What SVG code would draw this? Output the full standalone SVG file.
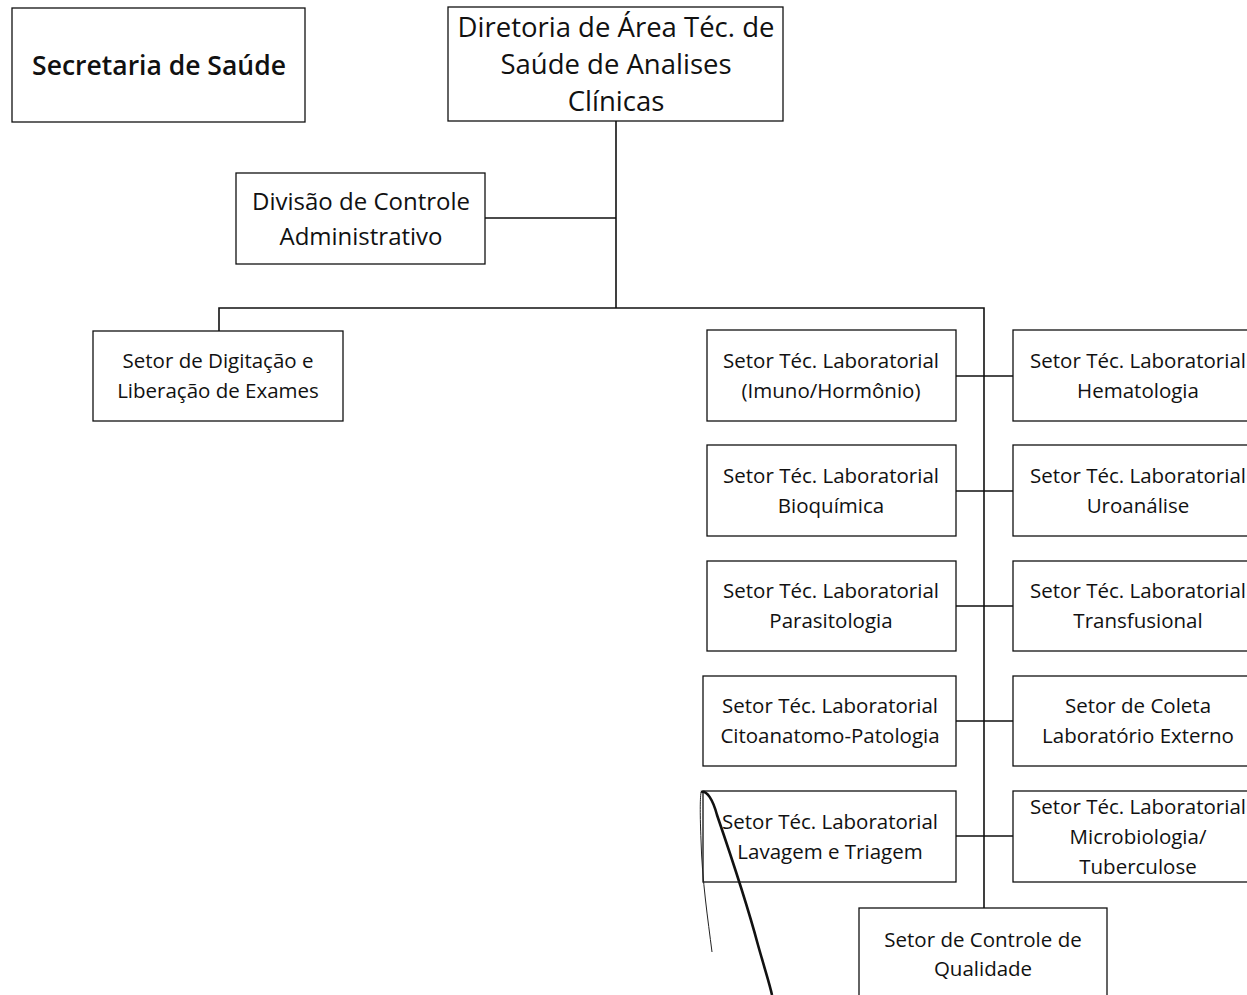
<svg xmlns="http://www.w3.org/2000/svg" width="1247" height="995" viewBox="0 0 1247 995">
<style>
.box{fill:#fff;stroke:#111;stroke-width:1.3}
.t{font-family:"Open Sans","Noto Sans",sans-serif;fill:#111;text-anchor:middle}
.s{font-size:20.5px}
.m{font-size:24px}
.l{font-size:27.5px}
.c{stroke:#111;stroke-width:1.6;fill:none}
</style>
<rect width="1247" height="995" fill="#fff"/>
<g id="connectors">
<path class="c" d="M616 121V308M485 218H616M219 331V308H984V908"/>
<path class="c" d="M956 376H1013M956 491H1013M956 606H1013M956 721H1013M956 836H1013"/>
</g>
<g id="secretaria"><rect class="box" x="12" y="8" width="293" height="114"/><text class="t" x="159" y="75" style="font-size:26.5px;font-weight:600">Secretaria de Saúde</text></g>
<g id="diretoria"><rect class="box" x="448" y="7" width="335" height="114"/><text class="t l" x="616" y="37">Diretoria de Área Téc. de</text><text class="t l" x="616" y="74">Saúde de Analises</text><text class="t l" x="616" y="111">Clínicas</text></g>
<g id="divisao"><rect class="box" x="236" y="173" width="249" height="91"/><text class="t m" x="361" y="210">Divisão de Controle</text><text class="t m" x="361" y="245">Administrativo</text></g>
<g id="digitacao"><rect class="box" x="93" y="331" width="250" height="90"/><text class="t s" x="218" y="368">Setor de Digitação e</text><text class="t s" x="218" y="398">Liberação de Exames</text></g>
<g id="imuno"><rect class="box" x="707" y="330" width="249" height="91"/><text class="t s" x="831" y="368">Setor Téc. Laboratorial</text><text class="t s" x="831" y="398">(Imuno/Hormônio)</text></g>
<g id="bioquimica"><rect class="box" x="707" y="445" width="249" height="91"/><text class="t s" x="831" y="483">Setor Téc. Laboratorial</text><text class="t s" x="831" y="513">Bioquímica</text></g>
<g id="parasitologia"><rect class="box" x="707" y="561" width="249" height="90"/><text class="t s" x="831" y="598">Setor Téc. Laboratorial</text><text class="t s" x="831" y="628">Parasitologia</text></g>
<g id="citoanatomo"><rect class="box" x="703" y="676" width="253" height="90"/><text class="t s" x="830" y="713">Setor Téc. Laboratorial</text><text class="t s" x="830" y="743">Citoanatomo-Patologia</text></g>
<g id="lavagem"><rect class="box" x="703" y="791" width="253" height="91"/><text class="t s" x="830" y="829">Setor Téc. Laboratorial</text><text class="t s" x="830" y="859">Lavagem e Triagem</text></g>
<g id="hematologia"><rect class="box" x="1013" y="330" width="250" height="91"/><text class="t s" x="1138" y="368">Setor Téc. Laboratorial</text><text class="t s" x="1138" y="398">Hematologia</text></g>
<g id="uroanalise"><rect class="box" x="1013" y="445" width="250" height="91"/><text class="t s" x="1138" y="483">Setor Téc. Laboratorial</text><text class="t s" x="1138" y="513">Uroanálise</text></g>
<g id="transfusional"><rect class="box" x="1013" y="561" width="250" height="90"/><text class="t s" x="1138" y="598">Setor Téc. Laboratorial</text><text class="t s" x="1138" y="628">Transfusional</text></g>
<g id="coleta"><rect class="box" x="1013" y="676" width="250" height="90"/><text class="t s" x="1138" y="713">Setor de Coleta</text><text class="t s" x="1138" y="743">Laboratório Externo</text></g>
<g id="microbiologia"><rect class="box" x="1013" y="791" width="250" height="91"/><text class="t s" x="1138" y="814">Setor Téc. Laboratorial</text><text class="t s" x="1138" y="844">Microbiologia/</text><text class="t s" x="1138" y="874">Tuberculose</text></g>
<g id="qualidade"><rect class="box" x="859" y="908" width="248" height="100"/><text class="t s" x="983" y="947">Setor de Controle de</text><text class="t s" x="983" y="976">Qualidade</text></g>
<g id="pen-mark">
<path d="M712 952C708 920 702 880 701 840C700 815 700 800 701 792" fill="none" stroke="#222" stroke-width="1"/>
<path d="M701 792C707 790 713 800 717 815C729 850 746 900 758 945C765 970 770 985 772 995" fill="none" stroke="#111" stroke-width="2.6"/>
</g>
</svg>
